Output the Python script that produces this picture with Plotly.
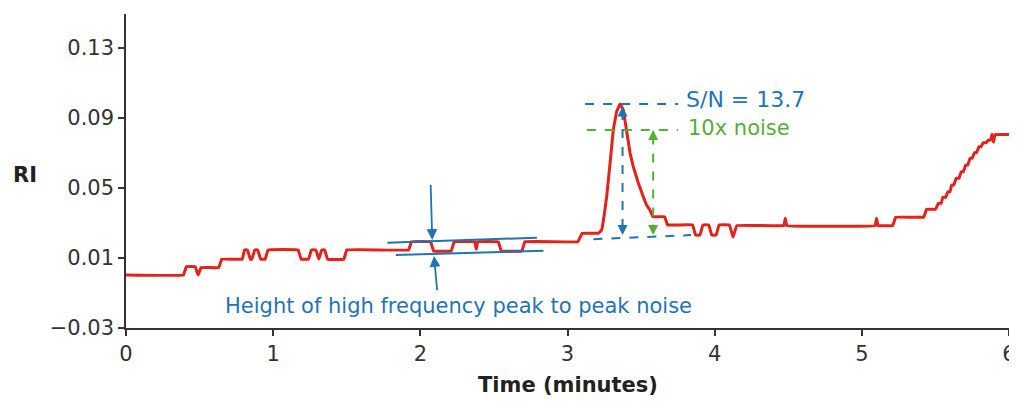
import plotly.graph_objects as go

# ---- data: chromatogram trace (time in minutes, RI) ----
time_min = [
    0.00, 0.39, 0.41, 0.47, 0.49, 0.51, 0.63, 0.65, 0.79, 0.805, 0.825, 0.845, 0.855, 0.875, 0.895,
    0.915, 0.945, 0.965, 1.17, 1.19, 1.24, 1.26, 1.29, 1.31, 1.33, 1.35, 1.37, 1.48, 1.50,
    1.92, 1.94, 2.07, 2.09, 2.21, 2.23, 2.37, 2.38, 2.39, 2.53, 2.55, 2.69, 2.71, 3.07, 3.10,
    3.21, 3.232, 3.25, 3.266, 3.289, 3.311, 3.334, 3.357, 3.379, 3.401, 3.425, 3.447, 3.481,
    3.515, 3.537, 3.56, 3.58, 3.66, 3.68, 3.85, 3.87, 3.90, 3.92, 3.96, 3.98, 4.01, 4.03,
    4.10, 4.125, 4.15, 4.47, 4.48, 4.49, 5.09, 5.10, 5.11, 5.21, 5.23, 5.42, 5.44, 5.50,
    5.52, 5.54, 5.55, 5.57, 5.585, 5.60, 5.61, 5.625, 5.64, 5.66, 5.675, 5.69, 5.705, 5.72,
    5.735, 5.75, 5.765, 5.78, 5.795, 5.81, 5.825, 5.845, 5.86, 5.875, 5.885, 5.895, 5.905, 6.00,
]
ri = [
    0.0003, 0.0003, 0.0050, 0.0050, 0.0003, 0.0045, 0.0045, 0.0093, 0.0093, 0.0146, 0.0146, 0.0093, 0.0093, 0.0146, 0.0146,
    0.0093, 0.0093, 0.0146, 0.0146, 0.0093, 0.0093, 0.0146, 0.0146, 0.0093, 0.0146, 0.0146, 0.0093, 0.0093, 0.0146,
    0.0146, 0.0193, 0.0193, 0.0140, 0.0140, 0.0193, 0.0193, 0.0150, 0.0193, 0.0193, 0.0140, 0.0140, 0.0193, 0.0193, 0.0241,
    0.0241, 0.0260, 0.0350, 0.0450, 0.0640, 0.0830, 0.0936, 0.0980, 0.0946, 0.0830, 0.0700, 0.0622, 0.0529,
    0.0450, 0.0403, 0.0374, 0.0336, 0.0336, 0.0289, 0.0289, 0.0231, 0.0231, 0.0289, 0.0289, 0.0231, 0.0231, 0.0289,
    0.0289, 0.0220, 0.0285, 0.0285, 0.0327, 0.0285, 0.0285, 0.0327, 0.0285, 0.0285, 0.0333, 0.0333, 0.0378, 0.0378,
    0.0413, 0.0413, 0.0447, 0.0447, 0.0479, 0.0479, 0.0517, 0.0517, 0.0555, 0.0555, 0.0593, 0.0593, 0.0631, 0.0631,
    0.0670, 0.0670, 0.0702, 0.0702, 0.0736, 0.0736, 0.0759, 0.0759, 0.0774, 0.0774, 0.0807, 0.0762, 0.0805, 0.0805,
]

x_ticks = [0, 1, 2, 3, 4, 5, 6]
y_ticks = [-0.03, 0.01, 0.05, 0.09, 0.13]
y_tick_labels = ["\u22120.03", "0.01", "0.05", "0.09", "0.13"]

# annotation geometry (data units)
noise_upper = ([1.776, 2.792], [0.0187, 0.0216])
noise_lower = ([1.833, 2.837], [0.0117, 0.0142])
peak_top = 0.0980
ten_x_level = 0.0831
sn_baseline = ([3.176, 3.840], [0.0207, 0.0231])

RED = "#e2231a"
BLUE = "#1f73b7"
GREEN = "#52b035"
FONT = "DejaVu Sans"
AXIS = "#333333"

fig = go.Figure()
fig.add_trace(go.Scatter(x=time_min, y=ri, mode="lines",
                         line=dict(color=RED, width=3, shape="spline", smoothing=0.15),
                         hoverinfo="skip", showlegend=False, cliponaxis=False))

shapes = []
for xs, ys in (noise_upper, noise_lower):
    shapes.append(dict(type="line", x0=xs[0], y0=ys[0], x1=xs[1], y1=ys[1],
                       line=dict(color=BLUE, width=2)))
shapes.append(dict(type="line", x0=3.12, y0=peak_top, x1=3.752, y1=peak_top,
                   line=dict(color=BLUE, width=2, dash="dash")))
shapes.append(dict(type="line", x0=3.131, y0=ten_x_level, x1=3.752, y1=ten_x_level,
                   line=dict(color=GREEN, width=2, dash="dash")))
shapes.append(dict(type="line", x0=sn_baseline[0][0], y0=sn_baseline[1][0],
                   x1=sn_baseline[0][1], y1=sn_baseline[1][1],
                   line=dict(color=BLUE, width=2, dash="dash")))
shapes.append(dict(type="line", x0=3.374, y0=0.094, x1=3.374, y1=0.0255,
                   line=dict(color=BLUE, width=2, dash="dash")))
shapes.append(dict(type="line", x0=3.582, y0=0.080, x1=3.582, y1=0.0255,
                   line=dict(color=GREEN, width=2, dash="dash")))

annotations = []
annotations.append(dict(x=2.081, y=0.0203, ax=2.070, ay=0.0527, xref="x", yref="y",
                        axref="x", ayref="y", showarrow=True, arrowhead=2, arrowsize=1.2,
                        arrowwidth=1.8, arrowcolor=BLUE, text=""))
annotations.append(dict(x=2.093, y=0.0111, ax=2.115, ay=-0.0093, xref="x", yref="y",
                        axref="x", ayref="y", showarrow=True, arrowhead=2, arrowsize=1.2,
                        arrowwidth=1.8, arrowcolor=BLUE, text=""))
for xv, yv, ayp, col in ((3.374, 0.0965, 12, BLUE), (3.374, 0.0231, -12, BLUE),
                          (3.582, 0.0831, 12, GREEN), (3.582, 0.0231, -12, GREEN)):
    annotations.append(dict(x=xv, y=yv, ax=0, ay=ayp, xref="x", yref="y",
                            showarrow=True, arrowhead=2, arrowsize=1.0, arrowwidth=2,
                            arrowcolor=col, text=""))
annotations.append(dict(x=3.792, y=0.1003, xref="x", yref="y", text="S/N = 13.7",
                        showarrow=False, xanchor="left", yanchor="middle",
                        font=dict(family=FONT, size=22, color=BLUE)))
annotations.append(dict(x=3.806, y=0.0843, xref="x", yref="y", text="10x noise",
                        showarrow=False, xanchor="left", yanchor="middle",
                        font=dict(family=FONT, size=21, color=GREEN)))
annotations.append(dict(x=2.26, y=-0.0174, xref="x", yref="y",
                        text="Height of high frequency peak to peak noise",
                        showarrow=False, xanchor="center", yanchor="middle",
                        font=dict(family=FONT, size=21, color=BLUE)))
annotations.append(dict(x=0.5, y=0, xref="paper", yref="paper", yshift=-57,
                        text="<b>Time (minutes)</b>", showarrow=False,
                        xanchor="center", yanchor="middle",
                        font=dict(family=FONT, size=21, color="#222")))
annotations.append(dict(x=0, y=0.487, xref="paper", yref="paper", xshift=-101,
                        text="<b>RI</b>", showarrow=False,
                        xanchor="center", yanchor="middle",
                        font=dict(family=FONT, size=21, color="#222")))

# page body has an 8 px margin; size the figure so the plot lands where the reference has it
# and nothing overflows the 1017x404 window (no scrollbars)
fig.update_layout(
    width=1009, height=388, autosize=False,
    margin=dict(l=118, r=8, t=6, b=68, autoexpand=False),
    paper_bgcolor="white", plot_bgcolor="white",
    shapes=shapes, annotations=annotations,
    font=dict(family=FONT, size=21, color=AXIS),
)
fig.update_xaxes(range=[0, 6], tickvals=x_ticks, ticktext=[str(v) for v in x_ticks],
                 automargin=False, ticklabeloverflow="allow",
                 showgrid=False, zeroline=False, showline=True, linecolor=AXIS, linewidth=1.5,
                 ticks="outside", ticklen=6, tickcolor=AXIS, tickwidth=1.5)
fig.update_yaxes(range=[-0.03, 0.1494], tickvals=y_ticks, ticktext=y_tick_labels,
                 automargin=False, ticklabeloverflow="allow",
                 showgrid=False, zeroline=False, showline=True, linecolor=AXIS, linewidth=1.5,
                 ticks="outside", ticklen=6, tickcolor=AXIS, tickwidth=1.5)

fig.write_html("out.html")
